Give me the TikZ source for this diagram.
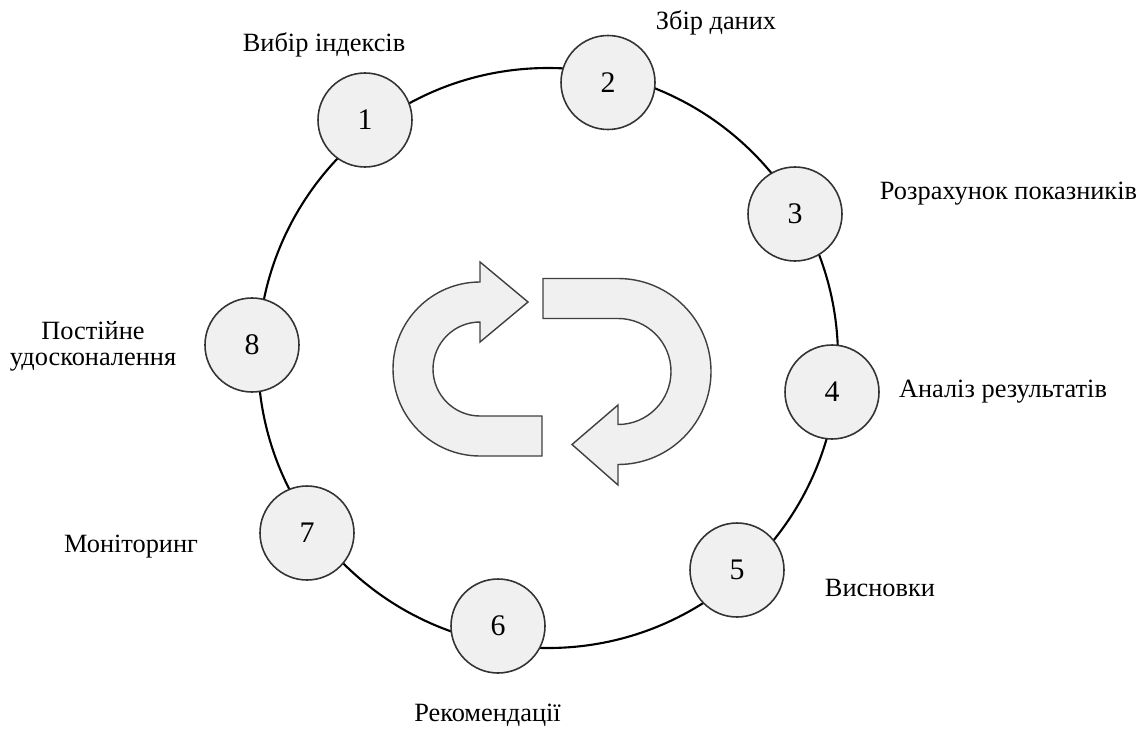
\documentclass[tikz,border=0pt]{standalone}
\usepackage{fontspec}
\setmainfont{Liberation Serif}
\usepackage{tikz}

\begin{document}
\begin{tikzpicture}[stage/.style={draw=black!80,line width=0.9pt,circle,fill=gray!12,minimum size=1.88cm,inner sep=0pt,font=\fontsize{17}{19}\selectfont},lbl/.style={font=\fontsize{15}{17}\selectfont,align=center,inner sep=0pt},turn/.style={draw=black!75,line width=0.8pt,fill=gray!12,line join=miter}]
\useasboundingbox (0,0) rectangle (22.84,-14.58);
% ring
\node[circle,draw,line width=1.2pt,minimum size=11.6cm,inner sep=0pt] (ring) at (10.96,-7.16) {};
% stages
\node[stage] (s1) at (7.3,-2.4) {1};
\node[stage] (s2) at (12.16,-1.65) {2};
\node[stage] (s3) at (15.9,-4.28) {3};
\node[stage] (s4) at (16.64,-7.84) {4};
\node[stage] (s5) at (14.74,-11.4) {5};
\node[stage] (s6) at (9.96,-12.52) {6};
\node[stage] (s7) at (6.14,-10.66) {7};
\node[stage] (s8) at (5.04,-6.9) {8};
% labels
\node[lbl] (l1) at (6.48,-0.9) {Вибір індексів};
\node[lbl] (l2) at (14.32,-0.46) {Збір даних};
\node[lbl] (l3) at (20.17,-3.88) {Розрахунок показників};
\node[lbl] (l4) at (20.06,-7.84) {Аналіз результатів};
\node[lbl] (l5) at (17.6,-11.76) {Висновки};
\node[lbl] (l6) at (9.75,-14.3) {Рекомендації};
\node[lbl] (l7) at (2.62,-10.94) {Моніторинг};
\node[lbl,text depth=0pt] (l8) at (1.86,-6.87) {Постійне\\[-2pt]удосконалення};
% cycle arrows
\draw[turn] (10.84,-9.12) -- (9.6,-9.12) arc[start angle=270,end angle=90,radius=1.74]
  -- (9.6,-5.24) -- (10.56,-6.04) -- (9.6,-6.84) -- (9.6,-6.44)
  arc[start angle=90,end angle=270,radius=0.94] -- (10.84,-8.32) -- cycle;
\draw[turn] (10.86,-5.57) -- (12.36,-5.57) arc[start angle=90,end angle=-90,radius=1.86]
  -- (12.36,-9.7) -- (11.44,-8.89) -- (12.36,-8.1) -- (12.36,-8.49)
  arc[start angle=-90,end angle=90,radius=1.06] -- (10.86,-6.37) -- cycle;
\end{tikzpicture}
\end{document}
